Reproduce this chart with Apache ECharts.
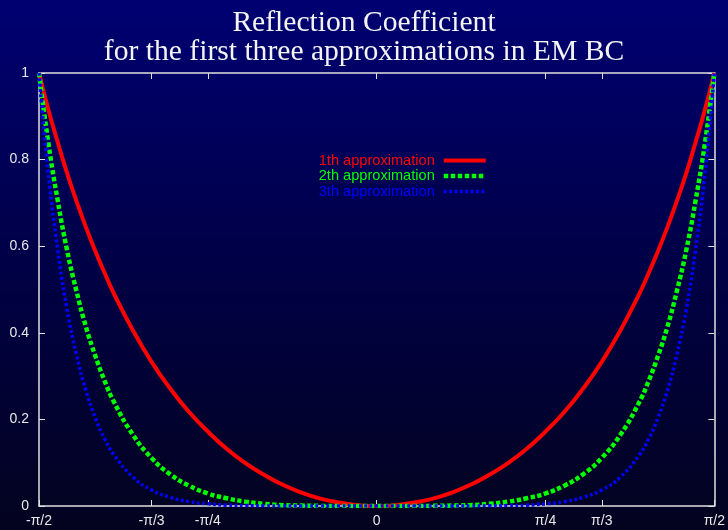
<!DOCTYPE html>
<html>
<head>
<meta charset="utf-8">
<script src="https://cdn.jsdelivr.net/npm/echarts@6/dist/echarts.min.js"></script>
<style>
html,body{margin:0;padding:0;}
#c{width:728px;height:530px;background:linear-gradient(to bottom,#000072 0%,#00004a 45%,#03031f 100%);}
</style>
</head>
<body>
<div id="c"></div>
<script>
// angle in degrees (-pi/2 .. pi/2)
const xDeg = [-90,-87.5,-85,-82.5,-80,-77.5,-75,-72.5,-70,-65,-60,-55,-50,-45,-40,-35,-30,-25,-20,-15,-10,-5,
  0,5,10,15,20,25,30,35,40,45,50,55,60,65,70,72.5,75,77.5,80,82.5,85,87.5,90];
const approx1 = [1,0.915,0.840,0.768,0.704,0.644,0.589,0.538,0.490,0.406,0.333,0.271,0.217,0.172,0.132,0.099,0.072,0.049,0.031,0.017,0.008,0.002,
  0,0.002,0.008,0.017,0.031,0.049,0.072,0.099,0.132,0.172,0.217,0.271,0.333,0.406,0.490,0.538,0.589,0.644,0.704,0.768,0.840,0.915,1];
const approx2 = [1,0.838,0.705,0.590,0.496,0.414,0.347,0.289,0.240,0.165,0.111,0.073,0.047,0.029,0.018,0.010,0.005,0.002,0.001,0.0003,0.0001,0,
  0,0,0.0001,0.0003,0.001,0.002,0.005,0.010,0.018,0.029,0.047,0.073,0.111,0.165,0.240,0.289,0.347,0.414,0.496,0.590,0.705,0.838,1];
const approx3 = [1,0.767,0.592,0.453,0.349,0.267,0.204,0.155,0.118,0.067,0.037,0.020,0.010,0.005,0.002,0.001,0.0004,0.0001,0,0,0,0,
  0,0,0,0,0,0.0001,0.0004,0.001,0.002,0.005,0.010,0.020,0.037,0.067,0.118,0.155,0.204,0.267,0.349,0.453,0.592,0.767,1];
const seriesNames = ['1th approximation','2th approximation','3th approximation'];
const tickValues = [-90,-60,-45,0,45,60,90];
const tickLabels = ['-\u03c0/2','-\u03c0/3','-\u03c0/4','0','\u03c0/4','\u03c0/3','\u03c0/2'];

const colors = ['#ff0000','#00ff00','#0000ff'];
const lineStyles = [
  {color:colors[0],width:4,type:'solid'},
  {color:colors[1],width:4.5,type:[4.5,2.5]},
  {color:colors[2],width:3.5,type:[2.8,2.6]}
];
const pairs = arr => xDeg.map((x,i)=>[x,arr[i]]);
const labelColor = '#e8e8e8';
const axisLine = {show:true,onZero:false,lineStyle:{color:'#e0e0e0',width:1.5}};

const chart = echarts.init(document.getElementById('c'),null,{renderer:'canvas'});
chart.setOption({
  backgroundColor:'transparent',
  animation:false,
  title:{
    text:'Reflection Coefficient\nfor the first three approximations in EM BC',
    left:'center', top:4,
    textStyle:{fontFamily:'Liberation Serif',fontSize:29.6,fontWeight:'normal',color:'#f4f4f4',lineHeight:29}
  },
  legend:{
    orient:'vertical', align:'right', right:235, top:148,
    itemWidth:42, itemHeight:10, itemGap:0.5,
    itemStyle:{opacity:0},
    textStyle:{fontFamily:'Liberation Sans',fontSize:14.6,lineHeight:10,padding:[0,4,0,0]},
    data:seriesNames.map((n,i)=>({name:n,textStyle:{color:colors[i]},lineStyle:lineStyles[i]}))
  },
  grid:{left:39,right:8,top:73,bottom:24,containLabel:false},
  xAxis:[{
    type:'value',min:-90,max:90,position:'bottom',
    axisLine:axisLine,
    splitLine:{show:false},
    axisTick:{show:true,inside:true,length:6,customValues:tickValues,lineStyle:{color:'#e0e0e0'}},
    axisLabel:{customValues:tickValues,color:labelColor,fontFamily:'Liberation Sans',fontSize:14,margin:8,
      formatter:v=>tickLabels[tickValues.indexOf(v)]}
  },{
    type:'value',min:-90,max:90,position:'top',
    axisLine:axisLine,
    splitLine:{show:false},
    axisTick:{show:true,inside:true,length:6,customValues:tickValues,lineStyle:{color:'#e0e0e0'}},
    axisLabel:{show:false}
  }],
  yAxis:[{
    type:'value',min:0,max:1,interval:0.2,position:'left',
    axisLine:axisLine,
    splitLine:{show:false},
    axisTick:{show:true,inside:true,length:6,lineStyle:{color:'#e0e0e0'}},
    axisLabel:{color:labelColor,fontFamily:'Liberation Sans',fontSize:14,margin:10,
      formatter:v=>String(Math.round(v*10)/10)}
  },{
    type:'value',min:0,max:1,interval:0.2,position:'right',
    axisLine:axisLine,
    splitLine:{show:false},
    axisTick:{show:true,inside:true,length:6,lineStyle:{color:'#e0e0e0'}},
    axisLabel:{show:false}
  }],
  series:seriesNames.map((n,i)=>({
    name:n,type:'line',data:pairs([approx1,approx2,approx3][i]),showSymbol:false,symbol:'none',smooth:true,
    color:colors[i],lineStyle:lineStyles[i]
  }))
});
</script>
</body>
</html>
